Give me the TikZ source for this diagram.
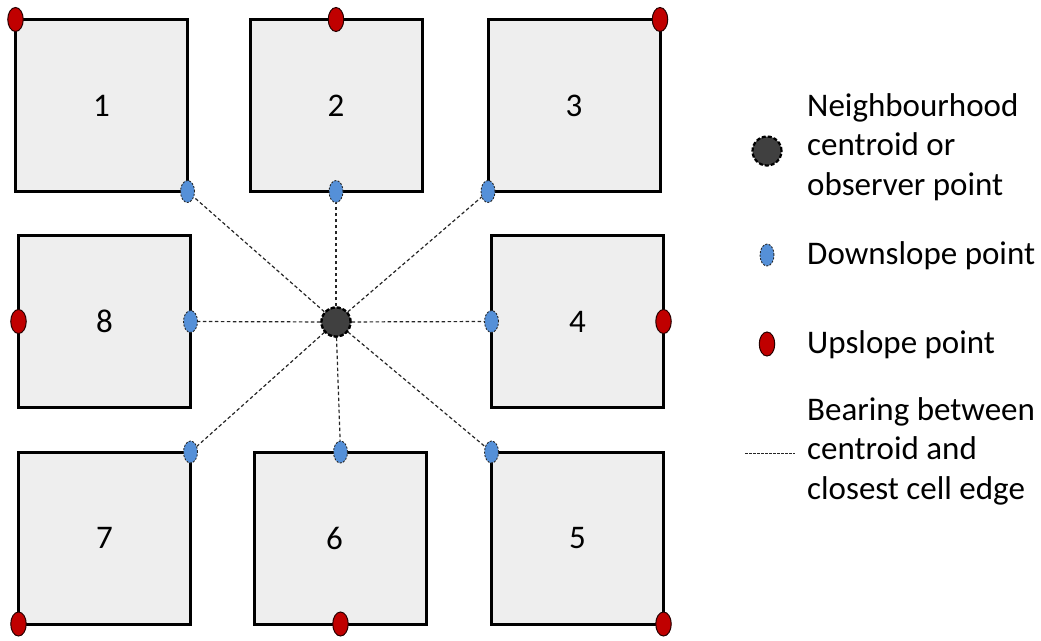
\documentclass[tikz,border=0pt]{standalone}
\usepackage{fontspec}
\setmainfont{Carlito}
\usetikzlibrary{shapes.geometric}
\definecolor{cellgray}{HTML}{EEEEEE}
\definecolor{downblue}{HTML}{5590D8}
\definecolor{upred}{HTML}{C00000}
\definecolor{centroidgray}{HTML}{404040}
\begin{document}
\begin{tikzpicture}[x=1pt,y=-1pt,
  txt/.style={font=\fontsize{33}{39.5}\selectfont},
  cell/.style={draw=black, line width=3pt, fill=cellgray, rectangle,
    minimum width=172pt, minimum height=172pt, inner sep=0pt, outer sep=0pt, txt},
  downpt/.style={ellipse, fill=downblue, draw=black!85, line width=0.9pt,
    dash pattern=on 2pt off 1.5pt, minimum width=14pt, minimum height=22pt, inner sep=0pt},
  uppt/.style={ellipse, fill=upred, draw=black!80!upred, line width=1pt,
    minimum width=15.5pt, minimum height=24pt, inner sep=0pt},
  centroid/.style={circle, fill=centroidgray, draw=black, line width=2.2pt,
    dash pattern=on 4pt off 2pt, minimum size=29pt, inner sep=0pt},
  bearing/.style={draw=black!85, line width=1.2pt, dash pattern=on 3.5pt off 2.5pt},
  legtext/.style={txt, anchor=west, align=left, inner sep=0pt}
]
\useasboundingbox (0,0) rectangle (1041,640);

% the eight neighbouring cells
\node[cell] (b1) at (101.5,105.5) {1};
\node[cell] (b2) at (336,105.5) {2};
\node[cell] (b3) at (574,105.5) {3};
\node[cell] (b8) at (104.5,321.5) {8};
\node[cell] (b4) at (577.5,321.5) {4};
\node[cell] (b7) at (104.5,538) {7};
\node[cell] (b6) at (340.5,538) {\hspace*{-12pt}6};
\node[cell] (b5) at (577.5,538) {5};

% upslope points (far corners / edges)
\node[uppt] (u1) at (b1.north west) {};
\node[uppt] (u2) at (b2.north) {};
\node[uppt] (u3) at (b3.north east) {};
\node[uppt] (u8) at (b8.west) {};
\node[uppt] (u4) at (b4.east) {};
\node[uppt] (u7) at (b7.south west) {};
\node[uppt] (u6) at (b6.south) {};
\node[uppt] (u5) at (b5.south east) {};

% downslope points (closest corners / edges)
\node[downpt] (d1) at (b1.south east) {};
\node[downpt] (d2) at (b2.south) {};
\node[downpt] (d3) at (b3.south west) {};
\node[downpt] (d8) at (b8.east) {};
\node[downpt] (d4) at (b4.west) {};
\node[downpt] (d7) at (b7.north east) {};
\node[downpt] (d6) at (b6.north) {};
\node[downpt] (d5) at (b5.north west) {};

% neighbourhood centroid and bearings
\node[centroid] (c) at (336,322) {};
\foreach \p in {d1,d2,d3,d4,d5,d6,d7,d8}
  \draw[bearing] (c) -- (\p);
\node[centroid] at (c) {};

% legend
\node[centroid] (lc) at (767,151) {};
\node[legtext] (lct) at (807,147) {Neighbourhood\\centroid or\\observer point};
\node[downpt] (ld) at (767,255) {};
\node[legtext] (ldt) at (807,256) {Downslope point};
\node[uppt] (lu) at (767,344) {};
\node[legtext] (lut) at (807,345) {Upslope point};
\coordinate (lb1) at (745,453);
\coordinate (lb2) at (795,453);
\draw[bearing, line width=0.9pt, dash pattern=on 2.5pt off 1.5pt] (lb1) -- (lb2);
\node[legtext] (lbt) at (807,451) {Bearing between\\centroid and\\closest cell edge};
\end{tikzpicture}
\end{document}
